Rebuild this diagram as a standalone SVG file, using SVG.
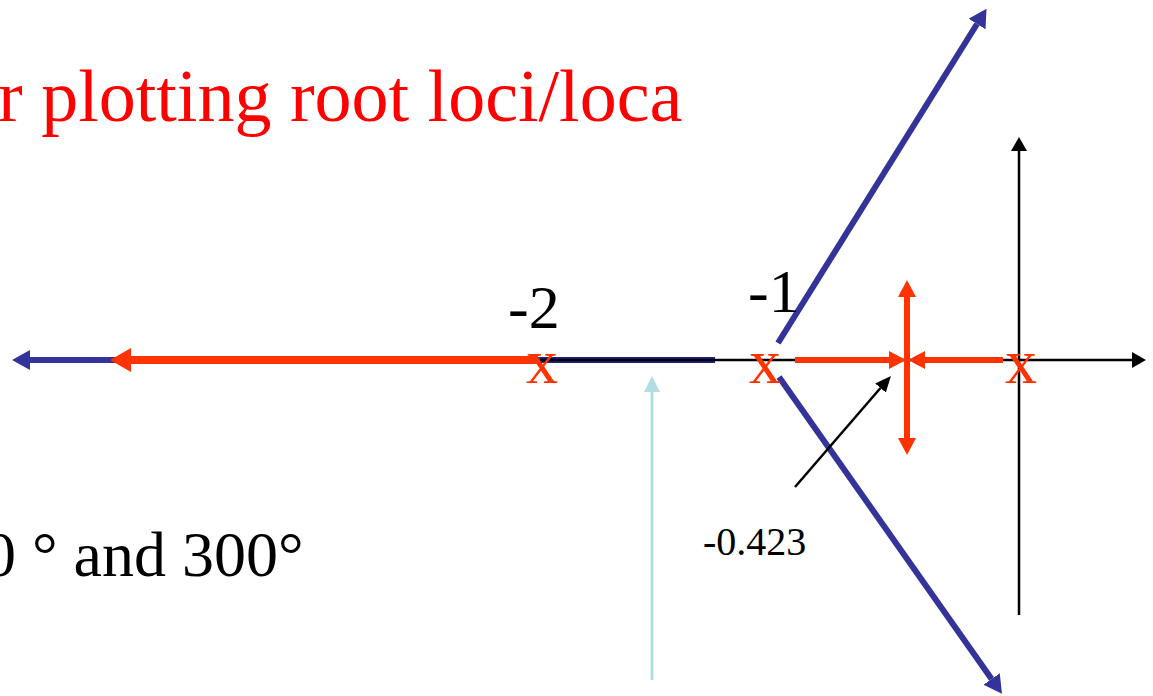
<svg xmlns="http://www.w3.org/2000/svg" width="1153" height="696" viewBox="0 0 1153 696">
<style>
.t{font-family:"Liberation Serif","Times New Roman",serif}
.red{stroke:#ff3300;fill:none}
.blue{stroke:#333399;fill:none}
.axis{stroke:#000;stroke-width:2.5;fill:none}
.xm{font-family:"Liberation Serif","Times New Roman",serif;font-size:64px;fill:#ff3300;text-anchor:middle}
</style>
<defs>
<marker id="hRed" markerUnits="userSpaceOnUse" viewBox="0 0 17 18" refX="0" refY="9" markerWidth="17" markerHeight="18" orient="auto"><path d="M0,0L17,9L0,18z" fill="#ff3300"/></marker>
<marker id="hRedBig" markerUnits="userSpaceOnUse" viewBox="0 0 21 24" refX="0" refY="12" markerWidth="21" markerHeight="24" orient="auto"><path d="M0,0L21,12L0,24z" fill="#ff3300"/></marker>
<marker id="hBlue" markerUnits="userSpaceOnUse" viewBox="0 0 18 20" refX="0" refY="10" markerWidth="18" markerHeight="20" orient="auto"><path d="M0,0L18,10L0,20z" fill="#333399"/></marker>
<marker id="hBlack" markerUnits="userSpaceOnUse" viewBox="0 0 14 16" refX="0" refY="8" markerWidth="14" markerHeight="16" orient="auto"><path d="M0,0L14,8L0,16z" fill="#000"/></marker>
<marker id="hBlackS" markerUnits="userSpaceOnUse" viewBox="0 0 16 14" refX="0" refY="7" markerWidth="16" markerHeight="14" orient="auto"><path d="M0,0L16,7L0,14z" fill="#000"/></marker>
<marker id="hLight" markerUnits="userSpaceOnUse" viewBox="0 0 16 16" refX="0" refY="8" markerWidth="16" markerHeight="16" orient="auto"><path d="M0,0L16,8L0,16z" fill="#b4dde3"/></marker>
</defs>

<g id="title"><text class="t" x="-2" y="121" font-size="74" fill="#ff0000">r plotting root loci/loca</text></g>
<g id="angles"><text class="t" x="-16" y="576" font-size="64" fill="#000">0 ° and 300°</text></g>

<g id="connectors">
  <line id="blue-seg" x1="540" y1="360" x2="715" y2="360" stroke="#222283" stroke-width="6"/>
  <line id="real-axis" class="axis" x1="540" y1="360" x2="1132" y2="360" marker-end="url(#hBlack)"/>
  <line id="imag-axis" class="axis" x1="1019" y1="615" x2="1019" y2="151" marker-end="url(#hBlack)"/>
  <line id="blue-left" class="blue" stroke-width="6" x1="540" y1="360" x2="30" y2="360" marker-end="url(#hBlue)"/>
  <line id="red-left" class="red" stroke-width="8" x1="538" y1="360" x2="131" y2="360" marker-end="url(#hRedBig)"/>
  <line id="blue-up" class="blue" stroke-width="6" x1="778" y1="343" x2="977" y2="24" marker-end="url(#hBlue)"/>
  <line id="blue-down" class="blue" stroke-width="6" x1="779" y1="377" x2="991.6" y2="679" marker-end="url(#hBlue)"/>
  <line id="red-r1" class="red" stroke-width="6" x1="795" y1="360" x2="889" y2="360" marker-end="url(#hRed)"/>
  <line id="red-r2" class="red" stroke-width="6" x1="1003" y1="360" x2="925" y2="360" marker-end="url(#hRed)"/>
  <line id="red-up" class="red" stroke-width="6" x1="907" y1="360" x2="907" y2="297" marker-end="url(#hRed)"/>
  <line id="red-down" class="red" stroke-width="6" x1="907" y1="360" x2="907" y2="438" marker-end="url(#hRed)"/>
  <line id="note-arrow" stroke="#000" stroke-width="2.5" x1="795" y1="487" x2="880.5" y2="388" marker-end="url(#hBlackS)"/>
  <line id="light-arrow" stroke="#b4dde3" stroke-width="3" x1="652" y1="680" x2="652" y2="392" marker-end="url(#hLight)"/>
</g>

<g id="pole-m2"><text class="xm" x="542" y="383">x</text><text class="t" x="508" y="328" font-size="62" fill="#000">-2</text></g>
<g id="pole-m1"><text class="xm" x="765" y="383">x</text><text class="t" x="748" y="312" font-size="62" fill="#000">-1</text></g>
<g id="pole-0"><text class="xm" x="1021" y="383">x</text></g>
<g id="breakaway-label"><text class="t" x="703" y="555" font-size="40" fill="#000">-0.423</text></g>
</svg>
